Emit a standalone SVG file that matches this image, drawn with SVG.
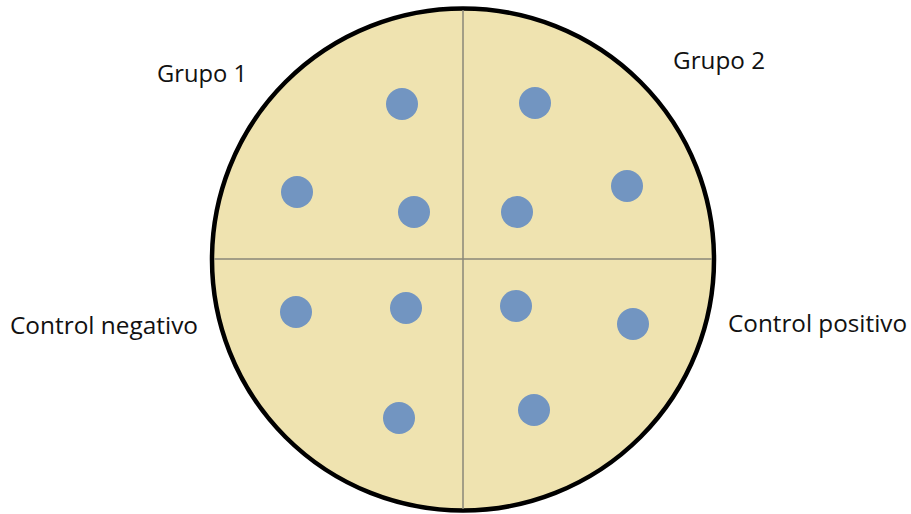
<svg xmlns="http://www.w3.org/2000/svg" width="911" height="514" viewBox="0 0 911 514">
<style>
.lbl{font-family:"Open Sans","Liberation Sans",sans-serif;font-size:23px;fill:#111}
.dot{fill:#7295C1}
.div{stroke:#8a8778;stroke-width:1.5}
</style>
<rect width="911" height="514" fill="#fff"/>
<g id="plate">
<circle cx="463" cy="259.5" r="251" fill="#EFE3B0" stroke="#000" stroke-width="4.5"/>
</g>
<g id="connectors">
<line class="div" x1="463" y1="10" x2="463" y2="509"/>
<line class="div" x1="214" y1="259" x2="712" y2="259"/>
</g>
<g id="dots">
<circle class="dot" cx="402" cy="104" r="16"/>
<circle class="dot" cx="297" cy="192" r="16"/>
<circle class="dot" cx="414" cy="212" r="16"/>
<circle class="dot" cx="535" cy="103" r="16"/>
<circle class="dot" cx="627" cy="186" r="16"/>
<circle class="dot" cx="517" cy="212" r="16"/>
<circle class="dot" cx="296" cy="312" r="16"/>
<circle class="dot" cx="406" cy="308" r="16"/>
<circle class="dot" cx="516" cy="306" r="16"/>
<circle class="dot" cx="633" cy="324" r="16"/>
<circle class="dot" cx="399" cy="418" r="16"/>
<circle class="dot" cx="534" cy="410" r="16"/>
</g>
<g id="labels">
<text class="lbl" x="157" y="82" textLength="90" lengthAdjust="spacingAndGlyphs">Grupo 1</text>
<text class="lbl" x="673" y="69" textLength="92" lengthAdjust="spacingAndGlyphs">Grupo 2</text>
<text class="lbl" x="10" y="334" textLength="188" lengthAdjust="spacingAndGlyphs">Control negativo</text>
<text class="lbl" x="728" y="332" textLength="179" lengthAdjust="spacingAndGlyphs">Control positivo</text>
</g>
</svg>
